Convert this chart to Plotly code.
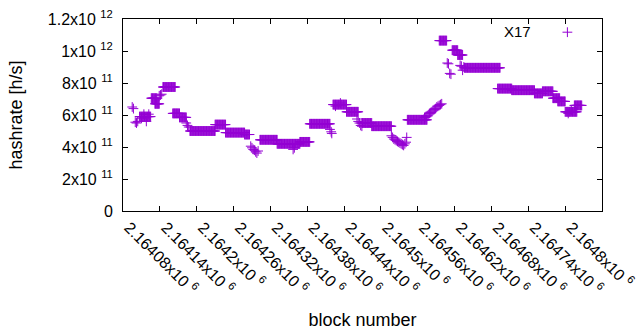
import plotly.graph_objects as go

# ---- data: plateaus (constant runs of consecutive blocks) ----
run_start = [2164107, 2164126, 2164132, 2164145, 2164161, 2164172, 2164189, 2164230,
             2164247, 2164278, 2164303, 2164331, 2164368, 2164384, 2164422, 2164444,
             2164469, 2164485, 2164543, 2164595, 2164616, 2164625, 2164636, 2164690,
             2164713, 2164750, 2164763, 2164780, 2164788, 2164800, 2164815]
run_end = [2164125, 2164135, 2164139, 2164165, 2164172, 2164183, 2164230, 2164247,
           2164278, 2164286, 2164331, 2164368, 2164384, 2164417, 2164444, 2164463,
           2164485, 2164517, 2164575, 2164607, 2164625, 2164633, 2164694, 2164713,
           2164750, 2164763, 2164780, 2164791, 2164800, 2164819, 2164827]
run_value = [5.9e11, 7.05e11, 6.7e11, 7.75e11, 6.1e11, 5.85e11, 5.0e11, 5.4e11,
             4.9e11, 4.78e11, 4.45e11, 4.2e11, 4.32e11, 5.45e11, 6.65e11, 6.2e11,
             5.5e11, 5.3e11, 5.7e11, 10.65e11, 10.05e11, 9.75e11, 8.95e11, 7.65e11,
             7.55e11, 7.35e11, 7.48e11, 7.05e11, 6.85e11, 6.2e11, 6.6e11]

# ---- data: individual / scattered blocks ----
single_block = [2164095, 2164097, 2164100, 2164102, 2164104,
                2164110, 2164114, 2164118, 2164122,
                2164139, 2164141, 2164143,
                2164183, 2164185, 2164187,
                2164288, 2164290, 2164292, 2164294, 2164296, 2164298, 2164300,
                2164357, 2164359,
                2164417, 2164419, 2164420,
                2164426, 2164434,
                2164461, 2164463, 2164465, 2164467, 2164469,
                2164517, 2164519, 2164521, 2164523, 2164525, 2164527, 2164529,
                2164531, 2164533, 2164535, 2164537, 2164539, 2164541, 2164542,
                2164571, 2164573, 2164575, 2164577, 2164579, 2164581, 2164583,
                2164585, 2164587, 2164589, 2164591, 2164593, 2164595, 2164597, 2164599,
                2164608, 2164610, 2164612, 2164614,
                2164629, 2164631, 2164633, 2164635,
                2164805, 2164810]
single_value = [6.5e11, 6.4e11, 5.55e11, 5.5e11, 5.6e11,
                5.8e11, 6.05e11, 5.6e11, 6.05e11,
                7.2e11, 7.25e11, 7.3e11,
                5.5e11, 5.35e11, 5.25e11,
                4.05e11, 3.95e11, 3.85e11, 3.8e11, 3.7e11, 3.62e11, 3.75e11,
                3.85e11, 3.95e11,
                5.1e11, 4.95e11, 4.85e11,
                6.55e11, 6.75e11,
                5.75e11, 5.6e11, 5.5e11, 5.35e11, 5.3e11,
                4.7e11, 4.6e11, 4.5e11, 4.45e11, 4.4e11, 4.35e11, 4.3e11,
                4.25e11, 4.2e11, 4.15e11, 4.1e11, 4.2e11, 4.3e11, 4.6e11,
                5.85e11, 5.9e11, 5.95e11, 6.0e11, 6.1e11, 6.15e11, 6.2e11,
                6.3e11, 6.35e11, 6.4e11, 6.5e11, 6.55e11, 6.6e11, 6.65e11, 6.7e11,
                9.25e11, 9.2e11, 8.6e11, 8.55e11,
                9.1e11, 9.05e11, 8.8e11, 9.0e11,
                6.1e11, 6.3e11]

x_tick_vals = [2164080, 2164140, 2164200, 2164260, 2164320, 2164380, 2164440,
               2164500, 2164560, 2164620, 2164680, 2164740, 2164800, 2164860]
x_tick_text = ["2.16408x10 <sup>6</sup>", "2.16414x10 <sup>6</sup>", "2.1642x10 <sup>6</sup>",
               "2.16426x10 <sup>6</sup>", "2.16432x10 <sup>6</sup>", "2.16438x10 <sup>6</sup>",
               "2.16444x10 <sup>6</sup>", "2.1645x10 <sup>6</sup>", "2.16456x10 <sup>6</sup>",
               "2.16462x10 <sup>6</sup>", "2.16468x10 <sup>6</sup>", "2.16474x10 <sup>6</sup>",
               "2.1648x10 <sup>6</sup>", "2.16486x10 <sup>6</sup>"]
y_tick_vals = [0, 2e11, 4e11, 6e11, 8e11, 1e12, 1.2e12]
y_tick_text = ["0", "2x10 <sup>11</sup>", "4x10 <sup>11</sup>", "6x10 <sup>11</sup>",
               "8x10 <sup>11</sup>", "1x10 <sup>12</sup>", "1.2x10 <sup>12</sup>"]

# expand runs into one point per block
xs, ys = [], []
for s, e, v in zip(run_start, run_end, run_value):
    for b in range(s, e + 1):
        xs.append(b)
        ys.append(v)
xs += single_block
ys += single_value

COLOR = "#9400D3"
FONT = "Liberation Sans, Arial, sans-serif"

fig = go.Figure()
fig.add_trace(go.Scatter(
    x=xs, y=ys, mode="markers", name=" ",
    marker=dict(symbol="cross-thin", size=7, color=COLOR,
                line=dict(width=1, color=COLOR)),
    showlegend=True,
))

fig.update_layout(
    width=640, height=330,
    margin=dict(l=123, r=38, t=19, b=119, autoexpand=False),
    paper_bgcolor="white", plot_bgcolor="white",
    font=dict(family=FONT, size=15, color="black"),
    showlegend=True,
    legend=dict(x=0.886, y=0.93, xanchor="left", yanchor="middle",
                bgcolor="rgba(0,0,0,0)", font=dict(size=15),
                itemwidth=30, tracegroupgap=0),
    xaxis=dict(range=[2164080, 2164860], tickvals=x_tick_vals, ticktext=x_tick_text,
               tickangle=45, ticks="inside", ticklen=5, tickcolor="black",
               showline=True, linecolor="black", linewidth=1, mirror="ticks",
               showgrid=False, zeroline=False, automargin=False, ticklabelshift=6,
               tickfont=dict(size=16),
               title=dict(text="block number", standoff=17)),
    yaxis=dict(range=[0, 1.2e12], tickvals=y_tick_vals, ticktext=y_tick_text,
               ticks="inside", ticklen=5, tickcolor="black",
               showline=True, linecolor="black", linewidth=1, mirror="ticks",
               showgrid=False, zeroline=False, ticklabelstandoff=6, automargin=False,
               tickfont=dict(size=16),
               title=dict(text="hashrate [h/s]", standoff=20)),
    annotations=[dict(text="X17", xref="paper", yref="paper",
                      x=(533 - 123) / 479, y=(211 - 31.5) / 192,
                      xanchor="right", yanchor="middle", showarrow=False,
                      font=dict(size=15, family=FONT, color="black"))],
)

fig.write_html("out.html", config={"displayModeBar": False},
               post_script="document.body.style.margin='0';document.body.style.overflow='hidden';")
